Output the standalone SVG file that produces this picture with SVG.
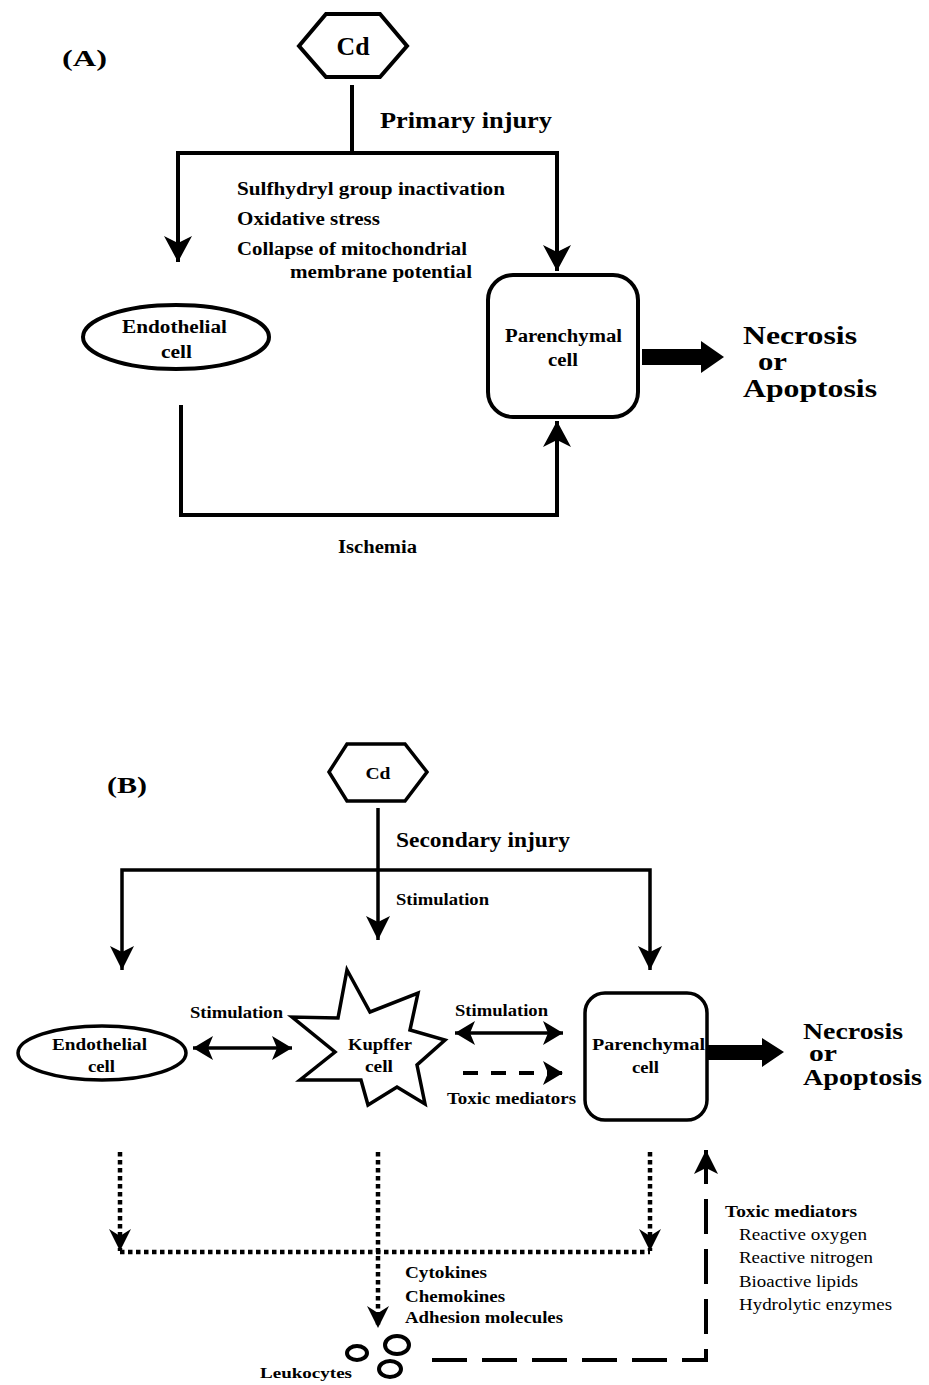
<svg xmlns="http://www.w3.org/2000/svg" width="929" height="1385" viewBox="0 0 929 1385">
<style>
.b{font-family:"Liberation Serif","Times New Roman",serif;font-weight:bold;fill:#000}
.r{font-family:"Liberation Serif","Times New Roman",serif;font-weight:normal;fill:#000}
.ln{fill:none;stroke:#000;stroke-linejoin:miter}
.sh{fill:#fff;stroke:#000}
.dot{fill:none;stroke:#000;stroke-width:4.5;stroke-dasharray:4.5 3.5}
.dash{fill:none;stroke:#000;stroke-width:4;stroke-dasharray:35 15}
</style>
<defs>
<marker id="ahA" viewBox="0 0 26 28" refX="26" refY="14" markerWidth="26" markerHeight="28" orient="auto" markerUnits="userSpaceOnUse"><path d="M0,0 L26,14 L0,28 L7,14 z" fill="#000"/></marker>
<marker id="ahB" viewBox="0 0 24 24" refX="24" refY="12" markerWidth="24" markerHeight="24" orient="auto" markerUnits="userSpaceOnUse"><path d="M0,0 L24,12 L0,24 L6,12 z" fill="#000"/></marker>
<marker id="ahS" viewBox="0 0 20 24" refX="20" refY="12" markerWidth="20" markerHeight="24" orient="auto-start-reverse" markerUnits="userSpaceOnUse"><path d="M0,0 L20,12 L0,24 L5,12 z" fill="#000"/></marker>
<marker id="ahD" viewBox="0 0 22 22" refX="22" refY="11" markerWidth="22" markerHeight="22" orient="auto" markerUnits="userSpaceOnUse"><path d="M0,0 L22,11 L0,22 L7,11 z" fill="#000"/></marker>
</defs>
<rect width="929" height="1385" fill="#fff"/>

<!-- ===== Panel A ===== -->
<text class="b" x="62" y="66" font-size="24" textLength="45" lengthAdjust="spacingAndGlyphs">(A)</text>

<g id="connectorsA">
<path class="ln" stroke-width="4" d="M352,85 V153"/>
<path class="ln" stroke-width="4" d="M352,153 H178 V262" marker-end="url(#ahA)"/>
<path class="ln" stroke-width="4" d="M352,153 H557 V271" marker-end="url(#ahA)"/>
<path class="ln" stroke-width="4" d="M181,405 V515 H557 V421" marker-end="url(#ahA)"/>
<polygon points="642,349 701,349 701,341 724,357 701,373 701,365 642,365" fill="#000"/>
</g>

<g id="cdA">
<polygon class="sh" stroke-width="4" points="299,46 326,14 380,14 407,46 380,77 326,77"/>
<text class="b" x="353" y="55" font-size="26" text-anchor="middle" textLength="33" lengthAdjust="spacingAndGlyphs">Cd</text>
</g>
<text class="b" x="380" y="128" font-size="24" textLength="172" lengthAdjust="spacingAndGlyphs">Primary injury</text>
<text class="b" x="237" y="195" font-size="18.5" textLength="268" lengthAdjust="spacingAndGlyphs">Sulfhydryl group inactivation</text>
<text class="b" x="237" y="225" font-size="18.5" textLength="143" lengthAdjust="spacingAndGlyphs">Oxidative stress</text>
<text class="b" x="237" y="255" font-size="18.5" textLength="230" lengthAdjust="spacingAndGlyphs">Collapse of mitochondrial</text>
<text class="b" x="290" y="278" font-size="18.5" textLength="182" lengthAdjust="spacingAndGlyphs">membrane potential</text>

<g id="endothelialA">
<ellipse class="sh" stroke-width="4" cx="176" cy="337" rx="93" ry="32"/>
<text class="b" x="122" y="333" font-size="18" textLength="105" lengthAdjust="spacingAndGlyphs">Endothelial</text>
<text class="b" x="161" y="358" font-size="18" textLength="31" lengthAdjust="spacingAndGlyphs">cell</text>
</g>

<g id="parenchymalA">
<rect class="sh" stroke-width="4" x="488" y="275" width="150" height="142" rx="25" ry="25"/>
<text class="b" x="505" y="342" font-size="18" textLength="117" lengthAdjust="spacingAndGlyphs">Parenchymal</text>
<text class="b" x="548" y="366" font-size="18" textLength="30" lengthAdjust="spacingAndGlyphs">cell</text>
</g>

<g id="outcomeA">
<text class="b" x="743" y="344" font-size="26" textLength="114" lengthAdjust="spacingAndGlyphs">Necrosis</text>
<text class="b" x="758" y="370" font-size="26" textLength="29" lengthAdjust="spacingAndGlyphs">or</text>
<text class="b" x="743" y="397" font-size="26" textLength="134" lengthAdjust="spacingAndGlyphs">Apoptosis</text>
</g>
<text class="b" x="338" y="553" font-size="18" textLength="79" lengthAdjust="spacingAndGlyphs">Ischemia</text>

<!-- ===== Panel B ===== -->
<text class="b" x="107" y="793" font-size="24" textLength="40" lengthAdjust="spacingAndGlyphs">(B)</text>

<g id="connectorsB">
<path class="ln" stroke-width="3.5" d="M378,808 V940" marker-end="url(#ahB)"/>
<path class="ln" stroke-width="3.5" d="M378,870 H122 V970" marker-end="url(#ahB)"/>
<path class="ln" stroke-width="3.5" d="M378,870 H650 V970" marker-end="url(#ahB)"/>
<path class="ln" stroke-width="3.5" d="M193,1048 H292" marker-start="url(#ahS)" marker-end="url(#ahS)"/>
<path class="ln" stroke-width="3.5" d="M455,1033 H563" marker-start="url(#ahS)" marker-end="url(#ahS)"/>
<path class="ln" stroke-width="4" stroke-dasharray="15 13" d="M463,1073 H563" marker-end="url(#ahS)"/>
<polygon points="708,1045 762,1045 762,1038 784,1052 762,1067 762,1060 708,1060" fill="#000"/>
<path class="dot" d="M120,1152 V1251" marker-end="url(#ahD)"/>
<path class="dot" d="M650,1152 V1251" marker-end="url(#ahD)"/>
<path class="dot" d="M120,1252 H650"/>
<path class="dot" d="M378,1152 V1328" marker-end="url(#ahD)"/>
<path class="dash" d="M432,1360 H706 V1150" marker-end="url(#ahB)"/>
</g>

<g id="cdB">
<polygon class="sh" stroke-width="3.5" points="329,772 347,744 405,744 427,772 405,801 347,801"/>
<text class="b" x="378" y="779" font-size="17" text-anchor="middle" textLength="25" lengthAdjust="spacingAndGlyphs">Cd</text>
</g>
<text class="b" x="396" y="847" font-size="22" textLength="174" lengthAdjust="spacingAndGlyphs">Secondary injury</text>
<text class="b" x="396" y="905" font-size="16" textLength="93" lengthAdjust="spacingAndGlyphs">Stimulation</text>

<g id="endothelialB">
<ellipse class="sh" stroke-width="3.5" cx="102" cy="1053" rx="84" ry="27"/>
<text class="b" x="52" y="1050" font-size="16" textLength="95" lengthAdjust="spacingAndGlyphs">Endothelial</text>
<text class="b" x="88" y="1072" font-size="16" textLength="27" lengthAdjust="spacingAndGlyphs">cell</text>
</g>
<text class="b" x="190" y="1018" font-size="16" textLength="93" lengthAdjust="spacingAndGlyphs">Stimulation</text>

<g id="kupffer">
<polygon class="sh" stroke-width="3.5" points="347,970 370,1012 418,993 410,1030 445,1040 417,1065 425,1104 397,1087 368,1105 361,1080 300,1080 335,1052 292,1017 338,1018"/>
<text class="b" x="348" y="1050" font-size="16" textLength="64" lengthAdjust="spacingAndGlyphs">Kupffer</text>
<text class="b" x="365" y="1072" font-size="16" textLength="28" lengthAdjust="spacingAndGlyphs">cell</text>
</g>
<text class="b" x="455" y="1016" font-size="16" textLength="93" lengthAdjust="spacingAndGlyphs">Stimulation</text>
<text class="b" x="447" y="1104" font-size="16" textLength="129" lengthAdjust="spacingAndGlyphs">Toxic mediators</text>

<g id="parenchymalB">
<rect class="sh" stroke-width="3.5" x="585" y="993" width="122" height="127" rx="20" ry="20"/>
<text class="b" x="592" y="1050" font-size="16" textLength="113" lengthAdjust="spacingAndGlyphs">Parenchymal</text>
<text class="b" x="632" y="1073" font-size="16" textLength="27" lengthAdjust="spacingAndGlyphs">cell</text>
</g>

<g id="outcomeB">
<text class="b" x="803" y="1039" font-size="23" textLength="100" lengthAdjust="spacingAndGlyphs">Necrosis</text>
<text class="b" x="809" y="1061" font-size="23" textLength="28" lengthAdjust="spacingAndGlyphs">or</text>
<text class="b" x="803" y="1085" font-size="23" textLength="119" lengthAdjust="spacingAndGlyphs">Apoptosis</text>
</g>

<g id="mediatorsList">
<text class="b" x="405" y="1278" font-size="16" textLength="82" lengthAdjust="spacingAndGlyphs">Cytokines</text>
<text class="b" x="405" y="1302" font-size="16" textLength="100" lengthAdjust="spacingAndGlyphs">Chemokines</text>
<text class="b" x="405" y="1323" font-size="16" textLength="158" lengthAdjust="spacingAndGlyphs">Adhesion molecules</text>
</g>

<g id="leukocytes">
<ellipse class="sh" stroke-width="4" cx="357" cy="1353" rx="10" ry="7"/>
<ellipse class="sh" stroke-width="4" cx="397" cy="1345" rx="12" ry="9"/>
<ellipse class="sh" stroke-width="4" cx="390" cy="1369" rx="11" ry="8"/>
<text class="b" x="260" y="1378" font-size="15" textLength="92" lengthAdjust="spacingAndGlyphs">Leukocytes</text>
</g>

<g id="toxicList">
<text class="b" x="725" y="1217" font-size="16" textLength="132" lengthAdjust="spacingAndGlyphs">Toxic mediators</text>
<text class="r" x="739" y="1240" font-size="16" textLength="128" lengthAdjust="spacingAndGlyphs">Reactive oxygen</text>
<text class="r" x="739" y="1263" font-size="16" textLength="134" lengthAdjust="spacingAndGlyphs">Reactive nitrogen</text>
<text class="r" x="739" y="1287" font-size="16" textLength="119" lengthAdjust="spacingAndGlyphs">Bioactive lipids</text>
<text class="r" x="739" y="1310" font-size="16" textLength="153" lengthAdjust="spacingAndGlyphs">Hydrolytic enzymes</text>
</g>
</svg>
